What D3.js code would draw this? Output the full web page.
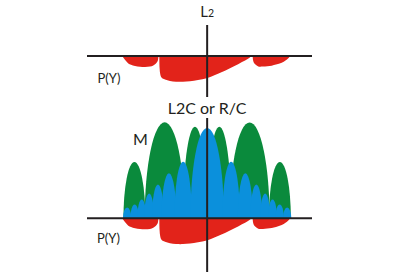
<!DOCTYPE html>
<html><head><meta charset="utf-8">
<script src="https://cdn.jsdelivr.net/npm/d3@7"></script>
<style>
html,body{margin:0;padding:0;background:#fff;}
svg{display:block;}
text{font-family:Lato,"Open Sans",sans-serif;fill:#231f20;}
</style></head>
<body>
<svg id="c" width="400" height="272"></svg>
<script>
// Frequency offset from L2 centre (MHz)
const xDomain = [-26.7, 23.3];

// P(Y) code spectrum (drawn below the axis): [MHz offset, depth]
const pyLeft = [[-18.86,0],[-18.48,2.5],[-18.03,5],[-17.52,7.5],[-16.92,8.7],[-16.03,10],[-14.92,10.7],[-13.81,11],[-12.70,10.6],[-11.97,9.5],[-11.37,7.5],[-10.99,5],[-10.81,0]];
const pyMain = [[-10.63,0],[-10.57,12],[-10.43,18],[-10.14,21.5],[-9.37,23.5],[-8.26,25],[-6.92,25.7],[-5.37,25.8],[-3.81,25.3],[-2.03,24],[-0.10,22.3],[1.74,19],[3.30,16],[4.63,13.3],[6.19,9.8],[7.74,6],[9.08,2.7],[9.90,0]];
const pyRight = [[10.12,0],[10.19,4],[10.41,7],[10.86,9],[11.37,10.5],[12.41,10.6],[14.34,9.7],[15.30,8.6],[16.57,6.7],[17.41,4.5],[18.03,2.3],[18.41,0]];

// M code lobes (green)
const mCenter = [-16.16,-9.44,-2.71,2.71,9.44,16.16];
const mHeight = [56.3,96,91.6,91.6,96,56.3];
const mHalfWidth = [2.44,4.44,2.67,2.67,4.44,2.44];

// L2C or R/C lobes (blue)
const cCenter = [-17.78,-16.11,-14.53,-12.89,-10.93,-8.49,-5.33,0,5.33,8.49,10.93,12.89,14.53,16.11,17.78];
const cHeight = [10.8,13.8,18.8,24.8,33.8,45,56.6,90.3,56.6,45,33.8,24.8,18.8,13.8,10.8];
const cHalfWidth = [0.93,0.96,1.0,1.11,1.33,1.67,1.95,3.73,1.95,1.67,1.33,1.11,1.0,0.96,0.93];

const RED = "#e2231a", GREEN = "#0a8a3c", BLUE = "#0b90dc", INK = "#231f20";

const svg = d3.select("#c");
const x = d3.scaleLinear().domain(xDomain).range([87, 312]);
const topAxisY = 56, botAxisY = 218.3;
const yUp = d3.scaleLinear().domain([0, 100]).range([botAxisY, botAxisY - 100]);
const yRedTop = d3.scaleLinear().domain([0, 100]).range([topAxisY, topAxisY + 100]);
const yRedBot = d3.scaleLinear().domain([0, 100]).range([botAxisY, botAxisY + 100]);

function redArea(ys){
  return d3.area().x(d => x(d[0])).y0(ys(0)).y1(d => ys(d[1])).curve(d3.curveCatmullRom.alpha(0.5));
}
[yRedTop, yRedBot].forEach(ys => {
  const g = svg.append("g");
  [pyLeft, pyMain, pyRight].forEach(lobe => {
    g.append("path").attr("d", redArea(ys)(lobe)).attr("fill", RED);
  });
});

function lobePath(c, h, hw){
  const x0 = x(c - hw), x1 = x(c + hw);
  const rx = (x1 - x0) / 2, ry = yUp(0) - yUp(h);
  return `M${x0},${yUp(0)} A${rx},${ry} 0 0 1 ${x1},${yUp(0)} Z`;
}
svg.append("g").selectAll("path").data(mCenter).join("path")
  .attr("d", (c, i) => lobePath(c, mHeight[i], mHalfWidth[i])).attr("fill", GREEN);
svg.append("g").selectAll("path").data(cCenter).join("path")
  .attr("d", (c, i) => lobePath(c, cHeight[i], cHalfWidth[i])).attr("fill", BLUE);

// axes
const ax = svg.append("g").attr("stroke", INK).attr("stroke-width", 2);
[topAxisY, botAxisY].forEach(yy => {
  ax.append("line").attr("x1", x.range()[0]).attr("x2", x.range()[1]).attr("y1", yy).attr("y2", yy);
});
ax.append("line").attr("x1", x(0)).attr("x2", x(0)).attr("y1", 25).attr("y2", 97);
ax.append("line").attr("x1", x(0)).attr("x2", x(0)).attr("y1", 118).attr("y2", 272);

// labels
const t = svg.append("text").attr("x", x(0)).attr("y", 16.7).attr("text-anchor", "middle").attr("font-size", 15);
t.append("tspan").text("L");
t.append("tspan").attr("font-size", 10.5).text("2");
svg.append("text").attr("x", x(0)).attr("y", 114).attr("text-anchor", "middle").attr("font-size", 16).text("L2C or R/C");
svg.append("text").attr("x", 133).attr("y", 145).attr("font-size", 16).text("M");
svg.append("text").attr("x", 97.5).attr("y", 82.5).attr("font-size", 13).text("P(Y)");
svg.append("text").attr("x", 97).attr("y", 243).attr("font-size", 13).text("P(Y)");
</script>
</body></html>
